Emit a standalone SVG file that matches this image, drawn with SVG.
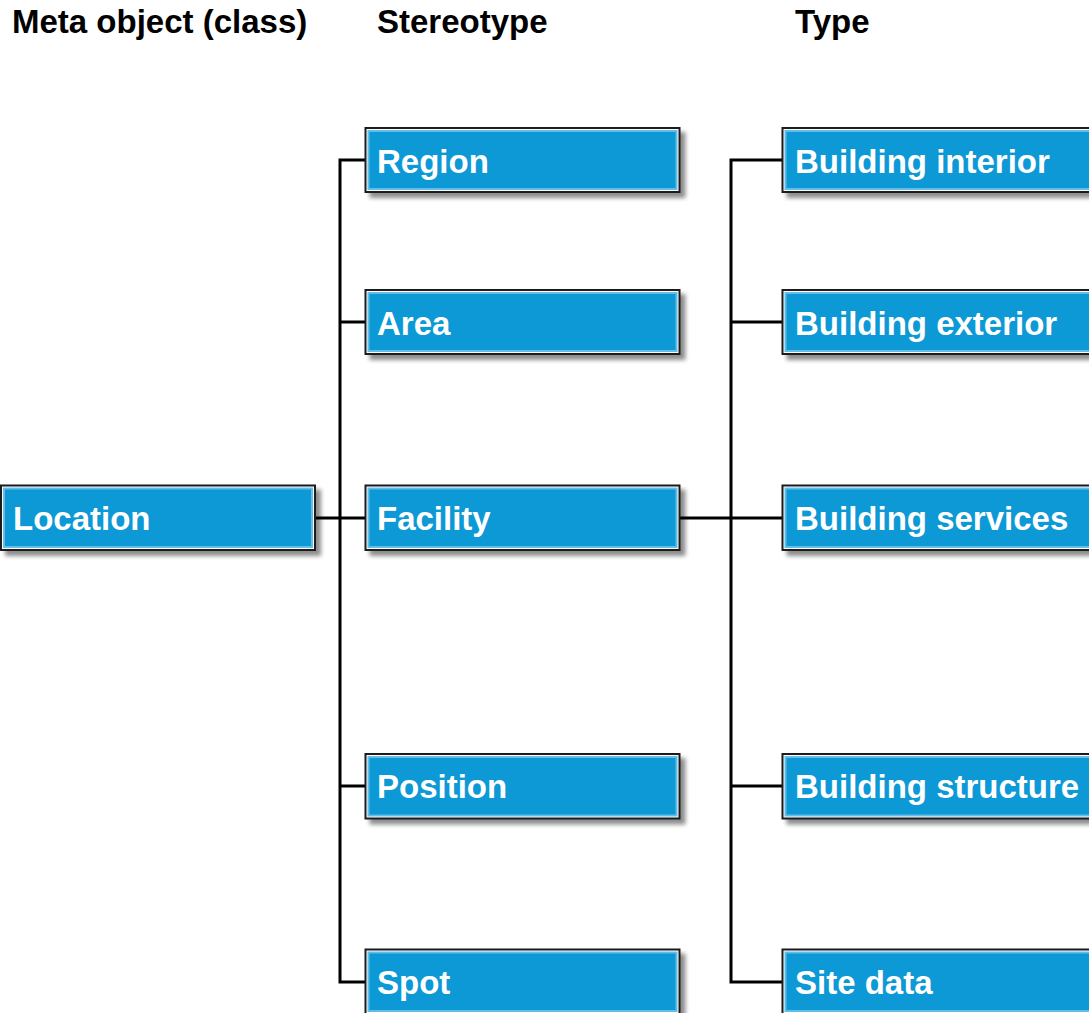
<svg xmlns="http://www.w3.org/2000/svg" width="1089" height="1013" viewBox="0 0 1089 1013">
<defs>
<filter id="sh" x="-10%" y="-20%" width="130%" height="150%">
<feGaussianBlur in="SourceAlpha" stdDeviation="2"/>
<feOffset dx="5" dy="5" result="b"/>
<feComponentTransfer><feFuncA type="linear" slope="0.45"/></feComponentTransfer>
<feMerge><feMergeNode/><feMergeNode in="SourceGraphic"/></feMerge>
</filter>
</defs>
<style>
.outer{fill:#ffffff;stroke:#1a1a1a;stroke-width:2}
.inner{fill:#0B98D6;stroke:#62bde8;stroke-width:2}
.lbl{font-family:"Liberation Sans",Arial,sans-serif;font-weight:bold;font-size:33px;fill:#ffffff}
.hdr{font-family:"Liberation Sans",Arial,sans-serif;font-weight:bold;font-size:33px;fill:#000000}
.con{stroke:#000000;stroke-width:3;fill:none}
</style>
<rect width="1089" height="1013" fill="#ffffff"/>
<g id="headers">
<text class="hdr" x="12" y="33">Meta object (class)</text>
<text class="hdr" x="377" y="33">Stereotype</text>
<text class="hdr" x="795" y="33">Type</text>
</g>
<g id="connectors">
<path class="con" d="M315 518 H365"/>
<path class="con" d="M365 160 H340 V982 H365"/>
<path class="con" d="M340 322 H365"/>
<path class="con" d="M340 786 H365"/>
<path class="con" d="M680 518 H782"/>
<path class="con" d="M782 160 H731 V982 H782"/>
<path class="con" d="M731 322 H782"/>
<path class="con" d="M731 786 H782"/>
</g>
<g id="location"><g filter="url(#sh)"><rect class="outer" x="1" y="485.5" width="314" height="64.5"/><rect class="inner" x="4" y="488.5" width="308" height="58.5"/></g><text class="lbl" x="13" y="530">Location</text></g>
<g id="region"><g filter="url(#sh)"><rect class="outer" x="365.5" y="128" width="314" height="64"/><rect class="inner" x="368.5" y="131" width="308" height="58"/></g><text class="lbl" x="377" y="173">Region</text></g>
<g id="area"><g filter="url(#sh)"><rect class="outer" x="365.5" y="290" width="314" height="64"/><rect class="inner" x="368.5" y="293" width="308" height="58"/></g><text class="lbl" x="377" y="335">Area</text></g>
<g id="facility"><g filter="url(#sh)"><rect class="outer" x="365.5" y="485.5" width="314" height="64.5"/><rect class="inner" x="368.5" y="488.5" width="308" height="58.5"/></g><text class="lbl" x="377" y="530">Facility</text></g>
<g id="position"><g filter="url(#sh)"><rect class="outer" x="365.5" y="754" width="314" height="64.5"/><rect class="inner" x="368.5" y="757" width="308" height="58.5"/></g><text class="lbl" x="377" y="798">Position</text></g>
<g id="spot"><g filter="url(#sh)"><rect class="outer" x="365.5" y="949.5" width="314" height="64.5"/><rect class="inner" x="368.5" y="952.5" width="308" height="58.5"/></g><text class="lbl" x="377" y="994">Spot</text></g>
<g id="building-interior"><g filter="url(#sh)"><rect class="outer" x="782.5" y="128" width="330" height="64"/><rect class="inner" x="785.5" y="131" width="324" height="58"/></g><text class="lbl" x="795" y="173">Building interior</text></g>
<g id="building-exterior"><g filter="url(#sh)"><rect class="outer" x="782.5" y="290" width="330" height="64"/><rect class="inner" x="785.5" y="293" width="324" height="58"/></g><text class="lbl" x="795" y="335">Building exterior</text></g>
<g id="building-services"><g filter="url(#sh)"><rect class="outer" x="782.5" y="485.5" width="330" height="64.5"/><rect class="inner" x="785.5" y="488.5" width="324" height="58.5"/></g><text class="lbl" x="795" y="530">Building services</text></g>
<g id="building-structure"><g filter="url(#sh)"><rect class="outer" x="782.5" y="754" width="330" height="64.5"/><rect class="inner" x="785.5" y="757" width="324" height="58.5"/></g><text class="lbl" x="795" y="798">Building structure</text></g>
<g id="site-data"><g filter="url(#sh)"><rect class="outer" x="782.5" y="949.5" width="330" height="64.5"/><rect class="inner" x="785.5" y="952.5" width="324" height="58.5"/></g><text class="lbl" x="795" y="994">Site data</text></g>
</svg>
